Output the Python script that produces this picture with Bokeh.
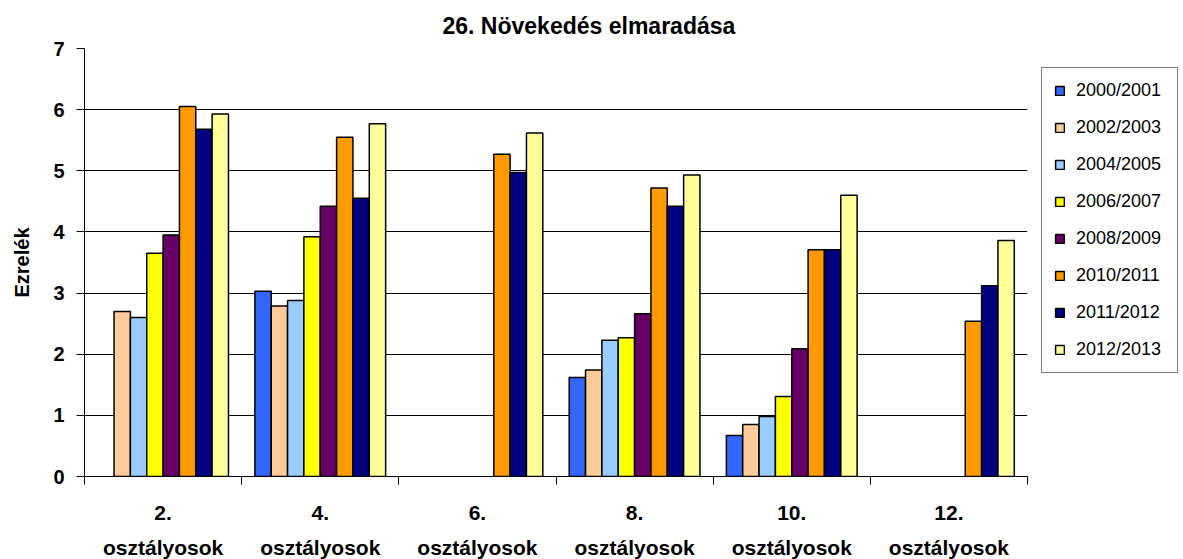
import math
from bokeh.plotting import figure
from bokeh.models import ColumnDataSource, FixedTicker, Legend, LegendItem
from bokeh.transform import dodge
from bokeh.embed import file_html
from bokeh.resources import INLINE

nan = float("nan")

categories = ["2.\nosztályosok", "4.\nosztályosok", "6.\nosztályosok",
              "8.\nosztályosok", "10.\nosztályosok", "12.\nosztályosok"]
series = ["2000/2001", "2002/2003", "2004/2005", "2006/2007",
          "2008/2009", "2010/2011", "2011/2012", "2012/2013"]
colors = ["#3366FF", "#FFCC99", "#99CCFF", "#FFFF00",
          "#660066", "#FF9900", "#000080", "#FFFF99"]

s2000_2001 = [nan, 3.03, nan, 1.62, 0.67, nan]
s2002_2003 = [2.70, 2.79, nan, 1.74, 0.85, nan]
s2004_2005 = [2.60, 2.88, nan, 2.23, 0.98, nan]
s2006_2007 = [3.65, 3.92, nan, 2.27, 1.31, nan]
s2008_2009 = [3.95, 4.42, nan, 2.66, 2.09, nan]
s2010_2011 = [6.05, 5.55, 5.27, 4.72, 3.71, 2.54]
s2011_2012 = [5.68, 4.55, 4.97, 4.42, 3.71, 3.12]
s2012_2013 = [5.93, 5.77, 5.62, 4.93, 4.60, 3.86]
values = [s2000_2001, s2002_2003, s2004_2005, s2006_2007,
          s2008_2009, s2010_2011, s2011_2012, s2012_2013]

y_ticks = [0, 1, 2, 3, 4, 5, 6, 7]

FONT = "Liberation Sans"

centers = [i + 0.5 for i in range(len(categories))]
data = {"x": centers}
for name, vals in zip(series, values):
    data[name] = vals
source = ColumnDataSource(data)

p = figure(frame_width=943, frame_height=428,
           x_range=(0, len(categories)), y_range=(0, 7),
           output_backend="svg", toolbar_location=None,
           min_border_left=84, min_border_top=48, min_border_bottom=74,
           min_border_right=148)

p.title.text = "26. Növekedés elmaradása"
p.title.text_font = FONT
p.title.text_font_size = "23px"
p.title.text_font_style = "bold"
p.title.text_color = "black"
p.title.align = "left"
p.title.offset = 358
p.title.standoff = 20

bw = 0.104
renderers = []
for j, (name, col) in enumerate(zip(series, colors)):
    r = p.vbar(x=dodge("x", (j - 3.5) * bw, range=p.x_range), top=name, bottom=0,
               width=bw, source=source, fill_color=col, line_color="black",
               line_width=1.5)
    renderers.append(r)

# axes
p.xaxis.ticker = FixedTicker(ticks=centers, minor_ticks=list(range(len(categories) + 1)))
p.xaxis.major_label_overrides = {c: lab for c, lab in zip(centers, categories)}
p.xaxis.major_tick_out = 0
p.xaxis.major_tick_in = 0
p.xaxis.minor_tick_out = 8
p.xaxis.minor_tick_in = 0
p.xaxis.minor_tick_line_color = "black"
p.xaxis.major_label_text_font = FONT
p.xaxis.major_label_text_font_size = "21px"
p.xaxis.major_label_text_font_style = "bold"
p.xaxis.major_label_text_color = "black"
p.xaxis.major_label_text_line_height = 1.55
p.xaxis.major_label_standoff = 16
p.xaxis.axis_line_color = "black"

p.yaxis.ticker = FixedTicker(ticks=y_ticks, minor_ticks=[])
p.yaxis.major_tick_out = 8
p.yaxis.major_tick_in = 0
p.yaxis.major_tick_line_color = "black"
p.yaxis.major_label_text_font = FONT
p.yaxis.major_label_text_font_size = "20px"
p.yaxis.major_label_text_font_style = "bold"
p.yaxis.major_label_text_color = "black"
p.yaxis.major_label_standoff = 12
p.yaxis.axis_line_color = "black"
p.yaxis.axis_label = "Ezrelék"
p.yaxis.axis_label_text_font = FONT
p.yaxis.axis_label_text_font_size = "20px"
p.yaxis.axis_label_text_font_style = "bold"
p.yaxis.axis_label_text_color = "black"
p.yaxis.axis_label_standoff = 17

p.xgrid.grid_line_color = None
p.ygrid.grid_line_color = "black"
p.ygrid.grid_line_width = 1
p.outline_line_color = None

legend = Legend(items=[LegendItem(label=n, renderers=[r]) for n, r in zip(series, renderers)],
                location=(14, 103))
legend.label_text_font = FONT
legend.label_text_font_size = "18px"
legend.label_text_color = "black"
legend.glyph_width = 11
legend.glyph_height = 11
legend.label_height = 20
legend.label_width = 89
legend.spacing = 16
legend.padding = 12
legend.margin = 0
legend.label_standoff = 11
legend.border_line_color = "black"
legend.border_line_width = 1
legend.background_fill_color = "white"
legend.background_fill_alpha = 1
p.add_layout(legend, "right")

open("out.html", "w").write(file_html(p, INLINE))
